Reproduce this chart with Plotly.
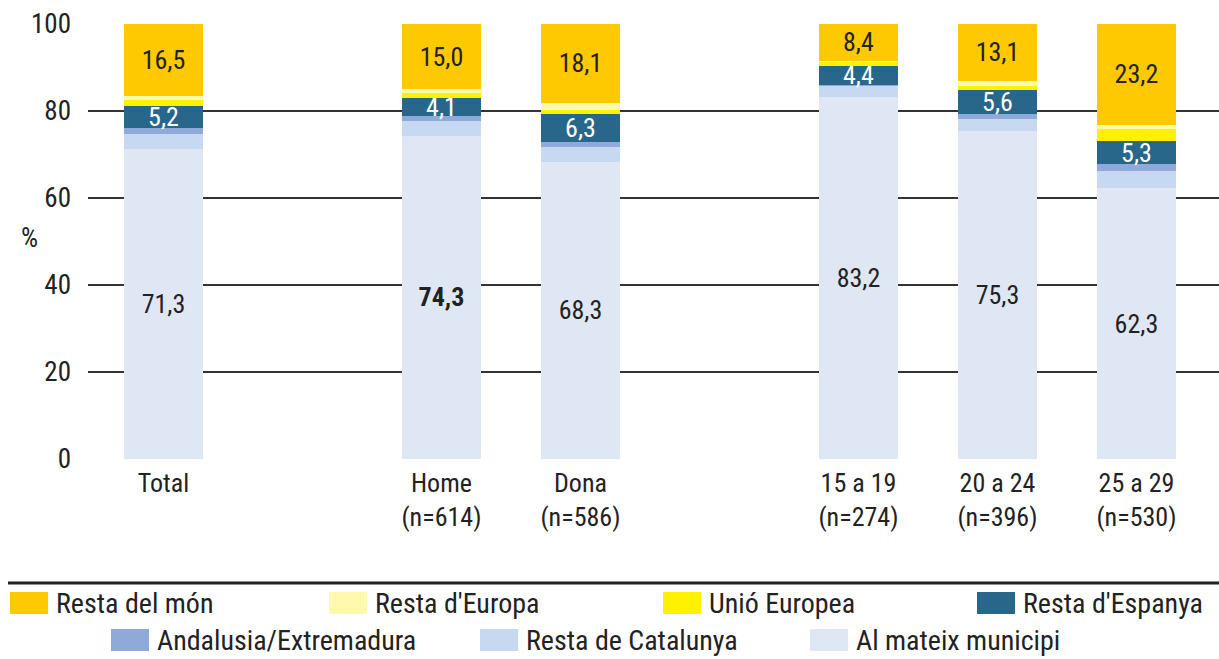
import plotly.graph_objects as go

# ── Data ───────────────────────────────────────────────────────────────────────
groups = [
    ["Total"],
    ["Home<br>(n=614)", "Dona<br>(n=586)"],
    ["15 a 19<br>(n=274)", "20 a 24<br>(n=396)", "25 a 29<br>(n=530)"],
]
y_ticks = [0, 20, 40, 60, 80, 100]

# stacked bottom -> top
al_mateix_municipi = [71.3, 74.3, 68.3, 83.2, 75.3, 62.3]
resta_catalunya = [3.5, 3.4, 3.5, 2.6, 2.8, 3.8]
andalusia_extremadura = [1.2, 1.1, 1.1, 0.2, 1.1, 1.7]
resta_espanya = [5.2, 4.1, 6.3, 4.4, 5.6, 5.3]
unio_europea = [1.4, 1.3, 1.0, 1.0, 1.0, 2.7]
resta_europa = [0.9, 0.8, 1.7, 0.2, 1.1, 1.0]
resta_mon = [16.5, 15.0, 18.1, 8.4, 13.1, 23.2]

# name, values, colour, label colour (None = no labels)
series = [
    ("Al mateix municipi", al_mateix_municipi, "#E0E7F4", "#222222"),
    ("Resta de Catalunya", resta_catalunya, "#C7D9F1", None),
    ("Andalusia/Extremadura", andalusia_extremadura, "#8FAAD9", None),
    ("Resta d'Espanya", resta_espanya, "#28668A", "#FFFFFF"),
    ("Unió Europea", unio_europea, "#FFF100", None),
    ("Resta d'Europa", resta_europa, "#FFF8AF", None),
    ("Resta del món", resta_mon, "#FFC900", "#222222"),
]
bold_labels = {("Al mateix municipi", 1)}

legend_rows = [
    ["Resta del món", "Resta d'Europa", "Unió Europea", "Resta d'Espanya"],
    ["Andalusia/Extremadura", "Resta de Catalunya", "Al mateix municipi"],
]

# ── Layout helpers ─────────────────────────────────────────────────────────────
FONT = "Liberation Sans Narrow, Roboto Condensed, DejaVu Sans Condensed, Arial Narrow, sans-serif"
INK = "#222222"
W, H = 1219, 659
L, T, B = 88, 24, 200
PW, PH = W - L, H - T - B


def px_x(x):
    return (x - L) / PW


def px_y(y):
    return (H - B - y) / PH


# slot positions: one empty slot between groups
categories, xpos = [], []
pos = 0
for g in groups:
    for c in g:
        categories.append(c)
        xpos.append(pos)
        pos += 1
    pos += 1


def fmt(v):
    return f"{v:.1f}".replace(".", ",")


fig = go.Figure()
for name, vals, color, tcolor in series:
    if tcolor:
        text = []
        for i, v in enumerate(vals):
            t = fmt(v)
            text.append(f"<b>{t}</b>" if (name, i) in bold_labels else t)
    else:
        text = None
    fig.add_trace(go.Bar(
        x=xpos, y=vals, name=name, width=0.57,
        marker=dict(color=color, line=dict(width=0)),
        text=text, textposition="inside" if text else "none",
        insidetextanchor="middle", textangle=0, constraintext="none",
        textfont=dict(family=FONT, size=26, color=tcolor or INK),
        showlegend=False,
    ))

# ── custom legend ──────────────────────────────────────────────────────────────
colors = {s[0]: s[2] for s in series}
row_x = [[10, 329, 663, 977], [111, 480, 810]]
row_y = [603, 640]
shapes = [dict(type="line", xref="paper", yref="paper",
               x0=px_x(8), x1=px_x(W), y0=px_y(583), y1=px_y(583),
               line=dict(color=INK, width=3))]
annotations = [dict(text="%", xref="paper", yref="paper", x=px_x(19), y=px_y(238),
                    showarrow=False, font=dict(family=FONT, size=27, color=INK))]
for names, xs, yc in zip(legend_rows, row_x, row_y):
    for nm, x0 in zip(names, xs):
        shapes.append(dict(type="rect", xref="paper", yref="paper",
                           x0=px_x(x0), x1=px_x(x0 + 38),
                           y0=px_y(yc - 11), y1=px_y(yc + 11),
                           fillcolor=colors[nm], line=dict(width=0)))
        annotations.append(dict(text=nm, xref="paper", yref="paper",
                                x=px_x(x0 + 44), y=px_y(yc), xanchor="left",
                                yanchor="middle", showarrow=False,
                                font=dict(family=FONT, size=28, color=INK)))

fig.update_layout(
    width=W, height=H,
    margin=dict(l=L, r=0, t=T, b=B),
    barmode="stack",
    plot_bgcolor="white", paper_bgcolor="white",
    font=dict(family=FONT, size=26, color=INK),
    xaxis=dict(tickvals=xpos, ticktext=categories, range=[-0.543, 7.594],
               showgrid=False, zeroline=False, showline=False, ticks="",
               ticklabelstandoff=6,
               tickfont=dict(family=FONT, size=26, color=INK), fixedrange=True),
    yaxis=dict(tickvals=y_ticks, range=[0, 100], showgrid=True,
               gridcolor="#333333", gridwidth=2, zeroline=False, showline=False,
               ticks="", ticklabelstandoff=16,
               tickfont=dict(family=FONT, size=27, color=INK), fixedrange=True),
    shapes=shapes, annotations=annotations,
)

fig.write_html("out.html", config={"displayModeBar": False},
               post_script="document.body.style.margin='0';")
